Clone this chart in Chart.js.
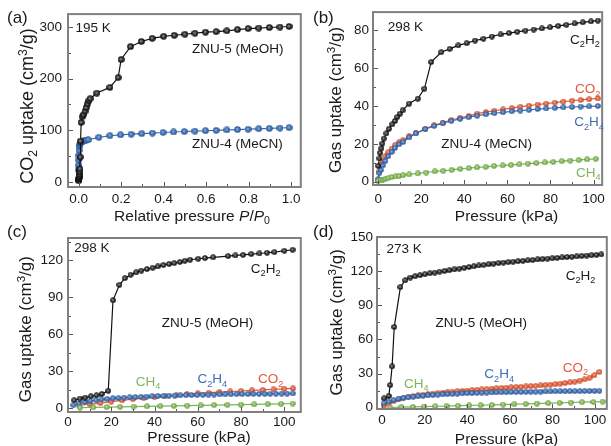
<!DOCTYPE html>
<html>
<head>
<meta charset="utf-8">
<script src="https://cdn.jsdelivr.net/npm/chart.js@4.4.1/dist/chart.umd.min.js"></script>
<style>
html, body { margin: 0; padding: 0; background: #fff; overflow: hidden; width: 611px; height: 446px; }
canvas { position: absolute; }
</style>
</head>
<body>
<canvas id="ca" width="306" height="224" style="left:0;top:0"></canvas>
<canvas id="cb" width="305" height="224" style="left:306px;top:0"></canvas>
<canvas id="cc" width="306" height="222" style="left:0;top:224px"></canvas>
<canvas id="cd" width="306" height="222" style="left:306px;top:224px"></canvas>
<script>
// (a) CO2 at 195 K, relative pressure
const aMeohP = [0.0005, 0.001, 0.0015, 0.002, 0.003, 0.004, 0.005, 0.006, 0.008, 0.009, 0.012, 0.017, 0.023, 0.03, 0.036, 0.042, 0.048, 0.054, 0.086, 0.147, 0.186, 0.2, 0.244, 0.295, 0.346, 0.4, 0.45, 0.5, 0.547, 0.597, 0.647, 0.697, 0.747, 0.797, 0.847, 0.897, 0.947, 0.99];
const aMeohV = [2, 4, 6, 8, 11, 15, 20, 25, 48, 79, 115, 126, 130, 137, 144, 151, 157, 161, 172, 183, 202, 237, 262, 272, 278, 282, 284, 286, 288, 290, 291, 292.5, 295, 297, 298, 299, 300, 301];
const aMecnP = [0.0005, 0.0008, 0.001, 0.0012, 0.002, 0.004, 0.006, 0.009, 0.012, 0.02, 0.025, 0.035, 0.045, 0.095, 0.147, 0.197, 0.247, 0.297, 0.347, 0.397, 0.447, 0.497, 0.547, 0.597, 0.647, 0.697, 0.747, 0.797, 0.847, 0.897, 0.947, 0.99];
const aMecnV = [23, 32, 42, 51, 61, 68.5, 72, 75, 76.5, 79, 79.8, 80.8, 81.5, 86.3, 89.3, 91, 92.3, 93.4, 94.5, 95.6, 96.6, 97.5, 98.3, 99, 99.8, 100.5, 101.3, 102, 102.8, 103.5, 104.3, 105];
const aXTicks = [0, 0.2, 0.4, 0.6, 0.8, 1.0];
const aYTicks = [0, 100, 200, 300];

// (b) ZNU-4 (MeCN) at 298 K
const bC2h2P = [0, 0.6, 0.9, 1.5, 1.9, 2.6, 3.8, 5, 6.6, 7.8, 8.9, 10.2, 11.3, 14.4, 18.4, 21.5, 24.6, 29.3, 33.2, 37.2, 41.1, 45, 48.9, 52.8, 56.8, 60.7, 64.6, 68.4, 72.2, 76, 79.8, 83.6, 87.4, 91.2, 95, 98.8, 102];
const bC2h2 = [8.4, 12.3, 15.3, 17.6, 20.2, 22.8, 25.5, 28, 30.4, 32.1, 34.2, 36, 37.7, 41.3, 43.9, 49.2, 63.2, 68.4, 70.2, 72, 73.2, 74.6, 75.5, 76.7, 77.8, 78.5, 79.2, 79.8, 80.4, 81, 81.6, 82.3, 82.9, 83.6, 84.2, 84.7, 85.1];
const bGasP = [0, 0.6, 1.2, 2.1, 3.4, 4.7, 6.3, 7.8, 9.7, 11.6, 14.4, 17.5, 21.9, 26, 30, 34, 38, 42, 46, 50, 54, 58, 62, 66, 70, 74, 78, 82, 86, 90, 94, 98, 102];
const bCo2 = [1, 5.5, 9, 11, 13.5, 15.5, 17.5, 19.3, 20.8, 22, 24, 25.8, 28, 29.8, 31.2, 32.6, 33.8, 34.8, 36, 36.8, 37.5, 38.2, 38.9, 39.6, 40.2, 40.8, 41.3, 41.8, 42.3, 42.8, 43.2, 43.6, 44];
const bC2h4 = [1.3, 4.6, 6.2, 8.6, 11, 13.5, 15.8, 17.9, 19.7, 21, 23.4, 25.5, 27.8, 29.5, 30.9, 32.1, 33.2, 34.1, 34.9, 35.6, 36.2, 36.7, 37.2, 37.6, 38, 38.4, 38.7, 39, 39.3, 39.5, 39.7, 39.8, 40];
const bCh4P = [0, 1.1, 2.2, 3.4, 4.7, 6.3, 8.2, 9.7, 11.6, 14.4, 18.4, 22.3, 26.3, 30.2, 34.1, 38.1, 42, 45.9, 49.9, 53.8, 57.8, 61.7, 65.6, 69.5, 73.5, 77.4, 81.3, 85.2, 89.2, 93.1, 97, 101];
const bCh4 = [0.4, 0.9, 1.2, 1.6, 2, 2.5, 2.8, 3, 3.5, 3.9, 4.4, 4.9, 5.5, 5.8, 6.3, 6.8, 7.2, 7.6, 7.9, 8.3, 8.6, 8.9, 9.2, 9.6, 9.9, 10.2, 10.5, 10.9, 11.2, 11.5, 11.8, 12.1];
const bXTicks = [0, 20, 40, 60, 80, 100];
const bYTicks = [0, 20, 40, 60, 80];

// (c) ZNU-5 (MeOH) at 298 K
const cC2h2P = [2.9, 5.5, 8, 10.6, 13.2, 15.6, 18.6, 20.8, 23.8, 26.3, 28.9, 31.5, 33.9, 36.5, 39.1, 41.5, 44.1, 46.7, 49.1, 51.7, 54, 56.4, 60.2, 63.3, 67.1, 74, 77.4, 80.9, 84.7, 88.5, 92, 95.4, 100, 103.8];
const cC2h2 = [6.3, 7.6, 8.4, 9.5, 10.3, 11.4, 13.9, 87.6, 100.2, 105.6, 108.4, 110.3, 111.7, 113, 114.1, 115.2, 116.3, 117.1, 117.9, 118.8, 119.8, 120.6, 121.4, 122, 122.6, 123.6, 124.1, 124.6, 125.2, 125.7, 126.3, 126.8, 127.9, 128.7];
const cC2h4P = [2.5, 5.1, 7.7, 10.3, 12.9, 15.5, 18.1, 20.7, 23.3, 25.9, 28.5, 31.1, 33.7, 36.3, 38.9, 41.5, 44.1, 46.7, 49.3, 51.9, 54.5, 57.1, 59.7, 62.3, 64.9, 67.5, 70.1, 72.7, 75.3, 77.9, 80.5, 83.1, 85.7, 88.3, 90.9, 93.5, 96.1, 98.7, 101.3, 103.9];
const cC2h4 = [2.2, 3.6, 4.8, 5.6, 6.3, 6.9, 7.4, 7.8, 8.1, 8.4, 8.7, 8.9, 9.1, 9.3, 9.5, 9.7, 9.8, 10, 10.1, 10.3, 10.4, 10.5, 10.6, 10.7, 10.8, 10.9, 11, 11.1, 11.15, 11.2, 11.3, 11.35, 11.4, 11.45, 11.5, 11.55, 11.6, 11.65, 11.7, 11.8];
const cCo2P = [5, 10, 15, 20, 25, 30, 35, 40, 45, 50, 55, 60, 65, 70, 75, 80, 85, 90, 95, 100, 104];
const cCo2 = [2, 3, 4, 5.2, 6.2, 7.1, 8, 8.8, 9.6, 10.4, 11.2, 11.9, 12.4, 12.9, 13.4, 13.8, 14.3, 14.7, 15.1, 15.5, 15.9];
const cCh4P = [5.5, 11.7, 17.9, 24.1, 30.3, 36.5, 42.7, 48.9, 55.1, 61.3, 67.5, 73.7, 79.9, 86.1, 92.3, 98.5, 103.8];
const cCh4 = [0.3, 0.5, 0.7, 0.9, 1.1, 1.3, 1.5, 1.7, 1.9, 2.1, 2.3, 2.5, 2.7, 2.9, 3.1, 3.3, 3.6];
const cXTicks = [0, 20, 40, 60, 80, 100];
const cYTicks = [0, 30, 60, 90, 120];

// (d) ZNU-5 (MeOH) at 273 K
const dC2h2P = [1, 3.1, 3.8, 4.7, 5.7, 8.6, 10.9, 13.2, 15.5, 17.8, 20.1, 22.4, 24.7, 27, 29.3, 31.6, 33.9, 36.2, 38.5, 40.8, 43.1, 45.4, 47.7, 50, 52.3, 54.6, 56.9, 59.2, 61.5, 63.8, 66.1, 68.4, 70.7, 73, 75.3, 77.6, 79.9, 82.2, 84.5, 86.8, 89.1, 91.4, 93.7, 96, 98.3, 100.6, 102.9];
const dC2h2 = [8.2, 10.3, 19.9, 36.3, 71, 106, 112, 114.4, 115.5, 116.4, 117.3, 118.2, 118.8, 119.6, 120.2, 120.8, 121.5, 122.2, 122.9, 123.6, 124.3, 125, 125.6, 126.1, 126.6, 127.1, 127.5, 127.9, 128.3, 128.7, 129.1, 129.5, 129.9, 130.3, 130.6, 131, 131.3, 131.7, 132, 132.4, 132.7, 133, 133.4, 133.7, 134, 134.3, 134.7];
const dGasP = [0.8, 3.1, 5.4, 7.7, 10, 12.3, 14.6, 16.9, 19.2, 21.5, 23.8, 26.1, 28.4, 30.7, 33, 35.3, 37.6, 39.9, 42.2, 44.5, 46.8, 49.1, 51.4, 53.7, 56, 58.3, 60.6, 62.9, 65.2, 67.5, 69.8, 72.1, 74.4, 76.7, 79, 81.3, 83.6, 85.9, 88.2, 90.5, 92.8, 95.1, 97.4, 99.7, 102];
const dC2h4 = [3.9, 5.5, 6.8, 7.8, 8.6, 9.2, 9.7, 10.1, 10.5, 10.9, 11.2, 11.5, 11.8, 12, 12.2, 12.4, 12.6, 12.8, 12.9, 13.1, 13.2, 13.3, 13.4, 13.5, 13.6, 13.7, 13.8, 13.9, 13.95, 14, 14.1, 14.15, 14.2, 14.3, 14.35, 14.4, 14.45, 14.5, 14.55, 14.6, 14.65, 14.7, 14.75, 14.8, 14.85];
const dCo2 = [1.8, 3.9, 5.9, 7.5, 8.6, 9.5, 10.3, 10.9, 11.5, 12, 12.5, 12.9, 13.3, 13.7, 14.1, 14.4, 14.8, 15.1, 15.4, 15.8, 16.1, 16.4, 16.7, 17, 17.3, 17.6, 17.9, 18.2, 18.4, 18.7, 19, 19.3, 19.6, 19.9, 20.3, 20.7, 21.2, 21.7, 22.3, 23, 23.9, 25, 26.5, 28.5, 31.5];
const dCh4P = [3.8, 9.1, 14.4, 19.7, 25, 30.3, 35.6, 40.9, 46.2, 51.5, 56.8, 62.1, 67.4, 72.7, 78, 83.3, 88.6, 93.9, 99.2, 103.5];
const dCh4 = [0.2, 0.5, 0.8, 1.0, 1.3, 1.5, 1.8, 2.0, 2.2, 2.5, 2.8, 3.1, 3.4, 3.7, 4.0, 4.3, 4.6, 4.9, 5.1, 5.4];
const dXTicks = [0, 20, 40, 60, 80, 100];
const dYTicks = [0, 30, 60, 90, 120, 150];

const FONT = "'Liberation Sans', Arial, Helvetica, sans-serif";
const INK = '#1a1a1a';
const FRAME = '#808080';
const BLACK = {fill: '#2a2a2a', hi: '#a8a8a8', edge: '#000000', line: '#111111'};
const BLUE = {fill: '#3e6fb4', hi: '#9dbbe3', edge: '#28508a', line: '#3c6cb0', text: '#3d6db5'};
const RED = {fill: '#e2603c', hi: '#f6b097', edge: '#bb4326', line: '#e05c3a', text: '#e2583a'};
const GREEN = {fill: '#82b756', hi: '#c8e2ab', edge: '#5f933a', line: '#7db356', text: '#7db55a'};

// small shaded sphere used as marker
function ball(c, d) {
  const cv = document.createElement('canvas');
  cv.width = cv.height = d;
  const g = cv.getContext('2d');
  const r = d / 2;
  const gr = g.createRadialGradient(r * 0.85, r * 0.85, 0, r, r, r);
  gr.addColorStop(0, c.hi);
  gr.addColorStop(0.55, c.fill);
  gr.addColorStop(1, c.edge);
  g.fillStyle = gr;
  g.beginPath();
  g.arc(r, r, r - 0.2, 0, 2 * Math.PI);
  g.fill();
  return cv;
}

// markup: _x subscript, ^x superscript, *...* italic
function richParts(text) {
  const parts = [];
  let it = false;
  for (let i = 0; i < text.length; i++) {
    let ch = text[i], m = 0;
    if (ch === '*') { it = !it; continue; }
    if (ch === '_') { ch = text[++i]; m = 1; }
    else if (ch === '^') { ch = text[++i]; m = -1; }
    parts.push({ch, m, it});
  }
  return parts;
}
function partFont(p, size) {
  return (p.it ? 'italic ' : '') + (p.m ? size * 0.68 : size) + 'px ' + FONT;
}
function richWidth(ctx, text, size) {
  let w = 0;
  richParts(text).forEach(p => { ctx.font = partFont(p, size); w += ctx.measureText(p.ch).width; });
  return w;
}
function drawRich(ctx, text, x, y, size) {
  let cx = x;
  richParts(text).forEach(p => {
    ctx.font = partFont(p, size);
    const dy = p.m === 1 ? size * 0.24 : p.m === -1 ? -size * 0.36 : 0;
    ctx.fillText(p.ch, cx, y + dy);
    cx += ctx.measureText(p.ch).width;
  });
}

const decor = {
  id: 'decor',
  afterDatasetsDraw(chart, args, o) {
    const {ctx, chartArea: a, scales: {x, y}} = chart;
    ctx.save();
    ctx.strokeStyle = '#555';
    ctx.lineWidth = 1;
    ctx.beginPath();
    const xtick = (list, len) => list.forEach(v => {
      const px = Math.round(x.getPixelForValue(v)) + 0.5;
      ctx.moveTo(px, a.bottom); ctx.lineTo(px, a.bottom - len);
    });
    const ytick = (list, len) => list.forEach(v => {
      const py = Math.round(y.getPixelForValue(v)) + 0.5;
      ctx.moveTo(a.left, py); ctx.lineTo(a.left + len, py);
    });
    xtick(o.xTicks, 5); xtick(o.xMinor, 3);
    ytick(o.yTicks, 5); ytick(o.yMinor, 3);
    ctx.stroke();
    ctx.strokeStyle = FRAME;
    ctx.lineWidth = 2;
    ctx.strokeRect(a.left, a.top, a.right - a.left, a.bottom - a.top);
    ctx.restore();
  },
  afterDraw(chart, args, o) {
    const {ctx, scales: {x, y}} = chart;
    ctx.save();
    ctx.textBaseline = 'alphabetic';
    ctx.textAlign = 'left';
    o.notes.forEach(n => {
      ctx.fillStyle = n.c;
      drawRich(ctx, n.t, x.getPixelForValue(n.x), y.getPixelForValue(n.y), 13.5);
    });
    ctx.fillStyle = INK;
    // axis titles
    const xt = o.xTitle;
    drawRich(ctx, xt.t, xt.x - richWidth(ctx, xt.t, xt.s) / 2, xt.y, xt.s);
    const yt = o.yTitle;
    ctx.save();
    ctx.translate(yt.x, yt.y);
    ctx.rotate(-Math.PI / 2);
    drawRich(ctx, yt.t, -richWidth(ctx, yt.t, yt.s) / 2, 0, yt.s);
    ctx.restore();
    // panel letter
    ctx.font = '17px ' + FONT;
    ctx.fillText(o.letter, o.letterPos[0], o.letterPos[1]);
    ctx.restore();
  }
};

function panel(id, o) {
  const sets = o.series.map(s => ({
    data: s.x.map((v, i) => ({x: v, y: s.y[i]})),
    showLine: true,
    borderColor: s.c.line,
    borderWidth: 1.2,
    pointStyle: ball(s.c, o.d),
    pointRadius: o.d / 2,
    tension: 0
  }));
  return new Chart(document.getElementById(id), {
    type: 'scatter',
    data: {datasets: sets},
    options: {
      responsive: false,
      animation: false,
      events: [],
      layout: {padding: o.pad},
      plugins: {legend: {display: false}, tooltip: {enabled: false}, decor: o},
      scales: {
        x: {
          type: 'linear', min: o.xMin, max: o.xMax,
          afterBuildTicks: s => { s.ticks = o.xTicks.map(v => ({value: v})); },
          afterFit: s => { s.height = o.xH; },
          grid: {display: false, drawTicks: false},
          border: {display: false},
          ticks: {font: {family: FONT, size: 13.5}, color: INK, padding: o.xTickPad, maxRotation: 0, autoSkip: false,
            callback: v => o.xDec ? v.toFixed(o.xDec) : String(v)}
        },
        y: {
          type: 'linear', min: o.yMin, max: o.yMax,
          afterBuildTicks: s => { s.ticks = o.yTicks.map(v => ({value: v})); },
          afterFit: s => { s.width = o.yW; },
          grid: {display: false, drawTicks: false},
          border: {display: false},
          ticks: {font: {family: FONT, size: 13.5}, color: INK, padding: o.yTickPad, autoSkip: false}
        }
      }
    },
    plugins: [decor]
  });
}

panel('ca', {
  series: [
    {x: aMeohP, y: aMeohV, c: BLACK},
    {x: aMecnP, y: aMecnV, c: BLUE}
  ],
  d: 7, pad: {left: 0, top: 11, right: 3, bottom: 0},
  xMin: -0.05, xMax: 1.045, yMin: -10, yMax: 325,
  xTicks: aXTicks, yTicks: aYTicks, xMinor: [0.1, 0.3, 0.5, 0.7, 0.9], yMinor: [50, 150, 250],
  xDec: 1, xH: 37, yW: 68, xTickPad: 4, yTickPad: 6,
  xTitle: {t: 'Relative pressure *P*/*P*_0', x: 192, y: 220.5, s: 15.5},
  yTitle: {t: 'CO_2 uptake (cm^3/g)', x: 33, y: 106, s: 18},
  letter: '(a)', letterPos: [7, 23],
  notes: [
    {t: '195 K', x: -0.015, y: 289.5, c: INK},
    {t: 'ZNU-5 (MeOH)', x: 0.533, y: 249.5, c: INK},
    {t: 'ZNU-4 (MeCN)', x: 0.533, y: 64.8, c: INK}
  ]
});

panel('cb', {
  series: [
    {x: bC2h2P, y: bC2h2, c: BLACK},
    {x: bCh4P, y: bCh4, c: GREEN},
    {x: bGasP, y: bC2h4, c: BLUE},
    {x: bGasP, y: bCo2, c: RED}
  ],
  d: 6, pad: {left: 0, top: 11, right: 4, bottom: 0},
  xMin: -2.4, xMax: 104, yMin: -1.7, yMax: 89.6,
  xTicks: bXTicks, yTicks: bYTicks, xMinor: [10, 30, 50, 70, 90], yMinor: [10, 30, 50, 70],
  xH: 39, yW: 67, xTickPad: 6, yTickPad: 4,
  xTitle: {t: 'Pressure (kPa)', x: 200.5, y: 221, s: 15.5},
  yTitle: {t: 'Gas uptake (cm^3/g)', x: 34.7, y: 100, s: 17},
  letter: '(b)', letterPos: [7, 23],
  notes: [
    {t: '298 K', x: 4.4, y: 79.5, c: INK},
    {t: 'C_2H_2', x: 89.1, y: 73, c: INK},
    {t: 'CO_2', x: 91.4, y: 46.7, c: RED.text},
    {t: 'C_2H_4', x: 91, y: 29.3, c: BLUE.text},
    {t: 'ZNU-4 (MeCN)', x: 29.3, y: 17.7, c: INK},
    {t: 'CH_4', x: 91.9, y: 2.5, c: GREEN.text}
  ]
});

panel('cc', {
  series: [
    {x: cC2h2P, y: cC2h2, c: BLACK},
    {x: cCh4P, y: cCh4, c: GREEN},
    {x: cC2h4P, y: cC2h4, c: BLUE},
    {x: cCo2P, y: cCo2, c: RED}
  ],
  d: 6, pad: {left: 0, top: 14, right: 3, bottom: 0},
  xMin: 0, xMax: 107.6, yMin: -3.3, yMax: 138.3,
  xTicks: cXTicks, yTicks: cYTicks, xMinor: [10, 30, 50, 70, 90], yMinor: [15, 45, 75, 105, 135],
  xH: 34, yW: 68, xTickPad: 2, yTickPad: 5,
  xTitle: {t: 'Pressure (kPa)', x: 199, y: 217.5, s: 15.5},
  yTitle: {t: 'Gas uptake (cm^3/g)', x: 30.7, y: 105.2, s: 17},
  letter: '(c)', letterPos: [7, 13],
  notes: [
    {t: '298 K', x: 2.9, y: 127.3, c: INK},
    {t: 'C_2H_2', x: 84.5, y: 110, c: INK},
    {t: 'ZNU-5 (MeOH)', x: 43.3, y: 66.1, c: INK},
    {t: 'CH_4', x: 31.3, y: 18, c: GREEN.text},
    {t: 'C_2H_4', x: 59.8, y: 19.9, c: BLUE.text},
    {t: 'CO_2', x: 87.8, y: 19.9, c: RED.text}
  ]
});

panel('cd', {
  series: [
    {x: dC2h2P, y: dC2h2, c: BLACK},
    {x: dCh4P, y: dCh4, c: GREEN},
    {x: dGasP, y: dC2h4, c: BLUE},
    {x: dGasP, y: dCo2, c: RED}
  ],
  d: 6, pad: {left: 0, top: 13, right: 0, bottom: 0},
  xMin: -2.4, xMax: 105.5, yMin: -1.1, yMax: 150,
  xTicks: dXTicks, yTicks: dYTicks, xMinor: [10, 30, 50, 70, 90], yMinor: [15, 45, 75, 105, 135],
  xH: 37, yW: 71, xTickPad: 3, yTickPad: 4,
  xTitle: {t: 'Pressure (kPa)', x: 200.5, y: 220, s: 15.5},
  yTitle: {t: 'Gas uptake (cm^3/g)', x: 35.7, y: 98.3, s: 17},
  letter: '(d)', letterPos: [7, 13],
  notes: [
    {t: '273 K', x: 2.1, y: 136.3, c: INK},
    {t: 'C_2H_2', x: 86.2, y: 112, c: INK},
    {t: 'ZNU-5 (MeOH)', x: 25.1, y: 71, c: INK},
    {t: 'CO_2', x: 84.8, y: 31.6, c: RED.text},
    {t: 'C_2H_4', x: 48, y: 25.8, c: BLUE.text},
    {t: 'CH_4', x: 10.3, y: 17.5, c: GREEN.text}
  ]
});
</script>
</body>
</html>
